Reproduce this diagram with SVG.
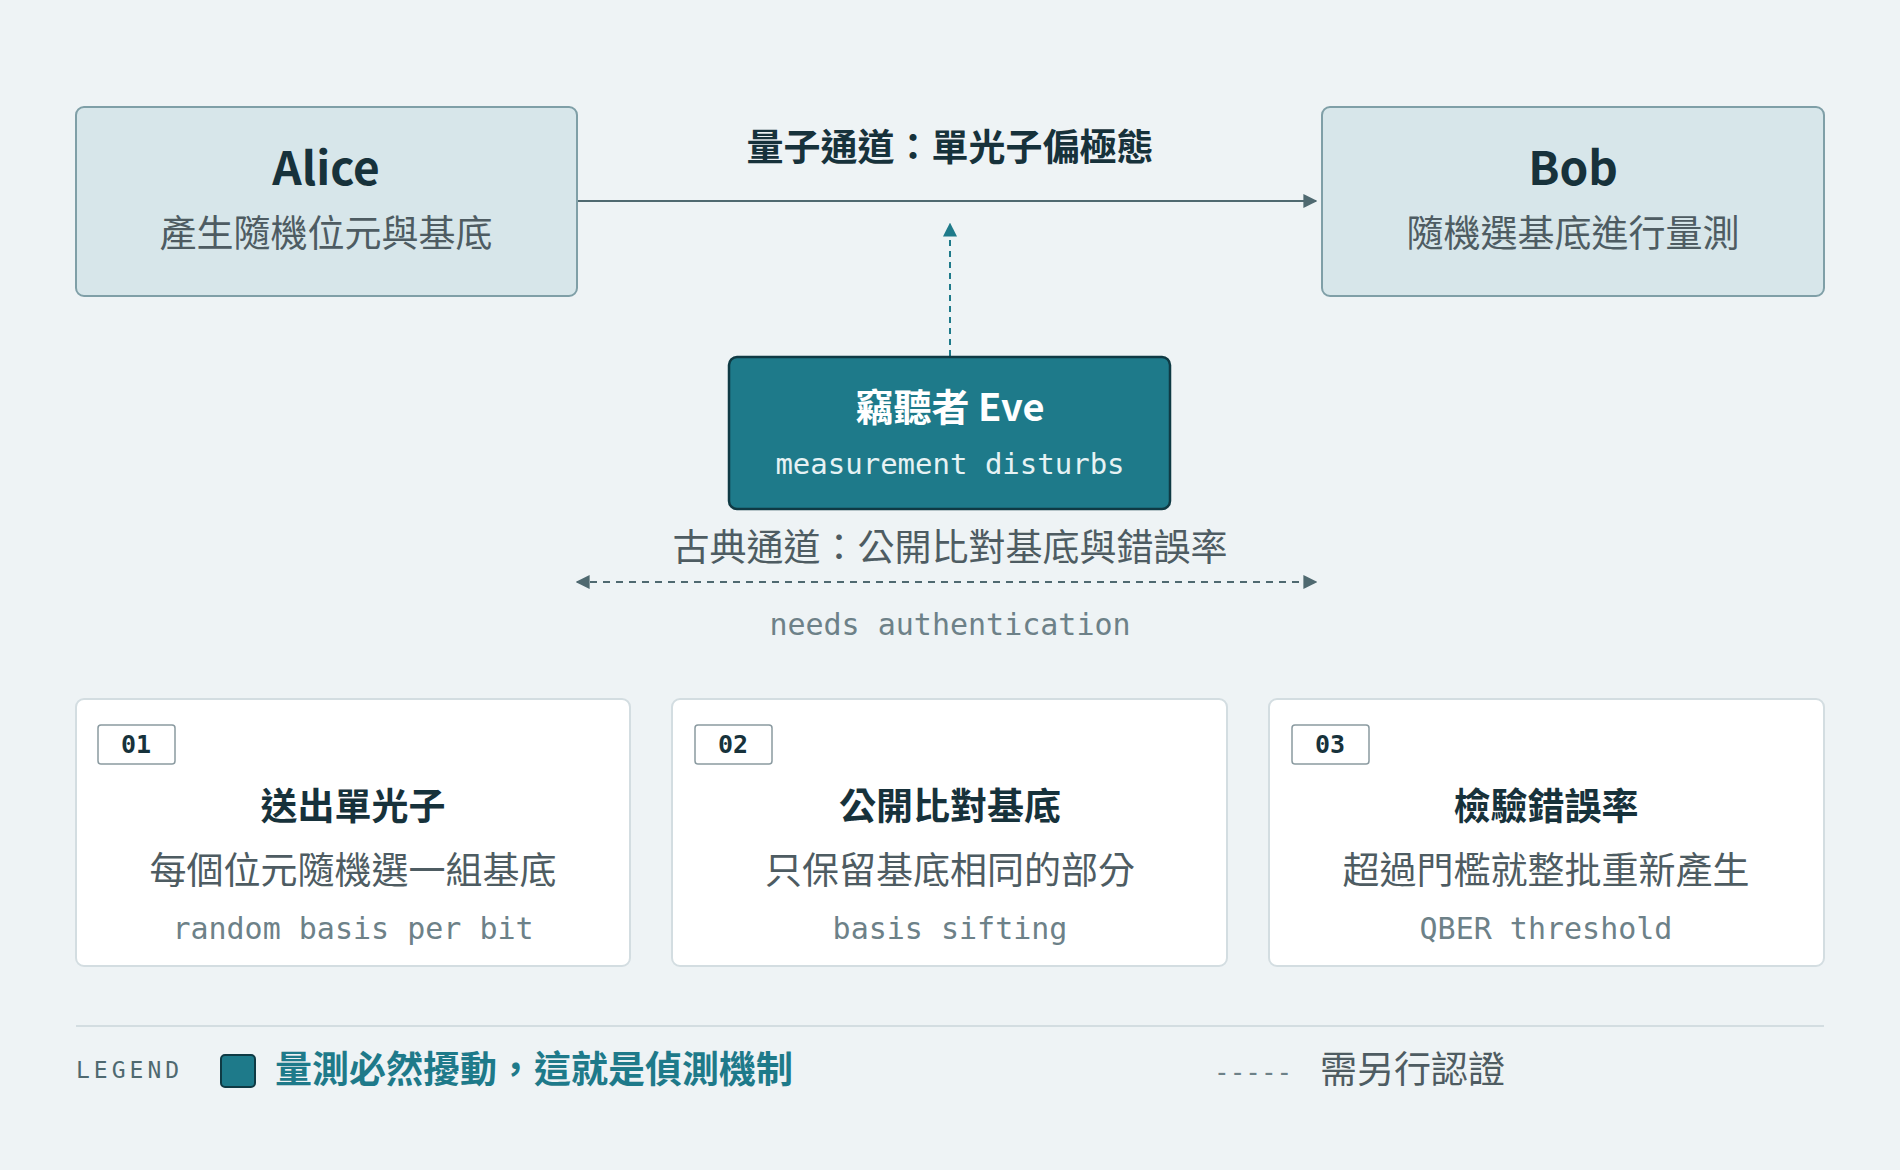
<svg xmlns="http://www.w3.org/2000/svg" width="1900" height="1170" viewBox="0 0 1900 1170">
<style>
.cjk{font-family:"Noto Sans CJK TC","Noto Sans",sans-serif}
.mono{font-family:"DejaVu Sans Mono","Liberation Mono",monospace}
.dark{fill:#17323b}
.gray{fill:#4e5c62}
.mgray{fill:#6d8188}
.box{fill:#d7e6ea;stroke:#7f9fa7;stroke-width:2}
.card{fill:#ffffff;stroke:#d3dde1;stroke-width:2}
.badge{fill:#ffffff;stroke:#8a9aa0;stroke-width:1.5}
</style>
<defs>
<marker id="ah" viewBox="0 0 10 10" refX="9" refY="5" markerWidth="7" markerHeight="7" orient="auto-start-reverse"><path d="M0,0L10,5L0,10z" fill="#4f6970"/></marker>
<marker id="aht" viewBox="0 0 10 10" refX="9" refY="5" markerWidth="7" markerHeight="7" orient="auto-start-reverse"><path d="M0,0L10,5L0,10z" fill="#1e7a8a"/></marker>
</defs>
<rect width="1900" height="1170" fill="#eef3f5"/>
<g id="connectors">
<line x1="578" y1="201" x2="1316" y2="201" stroke="#4f6970" stroke-width="2" marker-end="url(#ah)"/>
<line x1="950" y1="356" x2="950" y2="224" stroke="#1e7a8a" stroke-width="2" stroke-dasharray="6,5" marker-end="url(#aht)"/>
<line x1="577" y1="582" x2="1316" y2="582" stroke="#4f6970" stroke-width="2" stroke-dasharray="7,6" marker-start="url(#ah)" marker-end="url(#ah)"/>
<text x="950" y="161" text-anchor="middle" class="cjk dark" font-size="37" font-weight="700">量子通道：單光子偏極態</text>
<text x="950" y="561" text-anchor="middle" class="cjk gray" font-size="37">古典通道：公開比對基底與錯誤率</text>
<text x="950" y="635" text-anchor="middle" class="mono mgray" font-size="30">needs authentication</text>
</g>
<g id="alice">
<rect x="76" y="107" width="501" height="189" rx="8" class="box"/>
<text x="326" y="185" text-anchor="middle" class="cjk dark" font-size="46" font-weight="700">Alice</text>
<text x="326" y="247" text-anchor="middle" class="cjk gray" font-size="37">產生隨機位元與基底</text>
</g>
<g id="bob">
<rect x="1322" y="107" width="502" height="189" rx="8" class="box"/>
<text x="1573" y="185" text-anchor="middle" class="cjk dark" font-size="46" font-weight="700">Bob</text>
<text x="1573" y="247" text-anchor="middle" class="cjk gray" font-size="37">隨機選基底進行量測</text>
</g>
<g id="eve">
<rect x="729" y="357" width="441" height="152" rx="8" fill="#1e7a8a" stroke="#0f3a44" stroke-width="2.5"/>
<text x="950" y="421" text-anchor="middle" class="cjk" fill="#ffffff" font-size="38" font-weight="700">竊聽者 Eve</text>
<text x="950" y="474" text-anchor="middle" class="mono" fill="#e6f2f4" font-size="29">measurement disturbs</text>
</g>
<g id="step1">
<rect x="76" y="699" width="554" height="267" rx="8" class="card"/>
<rect x="98" y="725" width="77" height="39" rx="3" class="badge"/>
<text x="136" y="753" text-anchor="middle" class="mono dark" font-size="25" font-weight="700">01</text>
<text x="353" y="820" text-anchor="middle" class="cjk dark" font-size="37" font-weight="700">送出單光子</text>
<text x="353" y="884" text-anchor="middle" class="cjk gray" font-size="37">每個位元隨機選一組基底</text>
<text x="353" y="939" text-anchor="middle" class="mono mgray" font-size="30">random basis per bit</text>
</g>
<g id="step2">
<rect x="672" y="699" width="555" height="267" rx="8" class="card"/>
<rect x="695" y="725" width="77" height="39" rx="3" class="badge"/>
<text x="733" y="753" text-anchor="middle" class="mono dark" font-size="25" font-weight="700">02</text>
<text x="950" y="820" text-anchor="middle" class="cjk dark" font-size="37" font-weight="700">公開比對基底</text>
<text x="950" y="884" text-anchor="middle" class="cjk gray" font-size="37">只保留基底相同的部分</text>
<text x="950" y="939" text-anchor="middle" class="mono mgray" font-size="30">basis sifting</text>
</g>
<g id="step3">
<rect x="1269" y="699" width="555" height="267" rx="8" class="card"/>
<rect x="1292" y="725" width="77" height="39" rx="3" class="badge"/>
<text x="1330" y="753" text-anchor="middle" class="mono dark" font-size="25" font-weight="700">03</text>
<text x="1546" y="820" text-anchor="middle" class="cjk dark" font-size="37" font-weight="700">檢驗錯誤率</text>
<text x="1546" y="884" text-anchor="middle" class="cjk gray" font-size="37">超過門檻就整批重新產生</text>
<text x="1546" y="939" text-anchor="middle" class="mono mgray" font-size="30">QBER threshold</text>
</g>
<g id="legend">
<line x1="76" y1="1026" x2="1824" y2="1026" stroke="#d3dde1" stroke-width="2"/>
<text x="76" y="1078" class="mono" fill="#4f6970" font-size="23" letter-spacing="4">LEGEND</text>
<rect x="221" y="1055" width="34" height="32" rx="4" fill="#1e7a8a" stroke="#0f3a44" stroke-width="2"/>
<text x="275" y="1083" class="cjk" fill="#1e7a8a" font-size="37" font-weight="700">量測必然擾動，這就是偵測機制</text>
<text x="1214" y="1081" class="mono" fill="#6d8188" font-size="26">-----</text>
<text x="1320" y="1083" class="cjk gray" font-size="37">需另行認證</text>
</g>
</svg>
